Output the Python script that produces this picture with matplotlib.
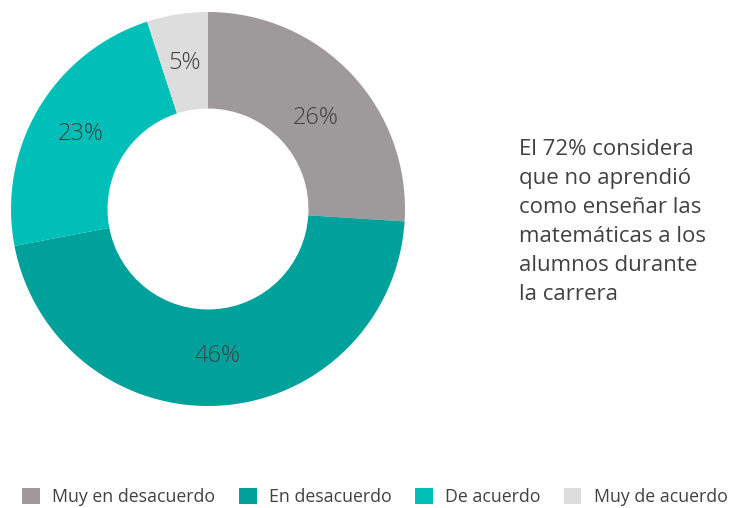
import matplotlib
matplotlib.use("Agg")
import matplotlib.pyplot as plt

categories = ["Muy en desacuerdo", "En desacuerdo", "De acuerdo", "Muy de acuerdo"]
values = [26, 46, 23, 5]
colors = ["#9E999A", "#00A19A", "#00BFB8", "#DDDDDD"]
note = "El 72% considera\nque no aprendió\ncomo enseñar las\nmatemáticas a los\nalumnos durante\nla carrera"

plt.rcParams['font.family'] = ['Open Sans', 'DejaVu Sans']
text_color = "#414141"

fig = plt.figure(figsize=(7.30, 5.08), dpi=100)
ax = fig.add_axes([11/730, (299-197)/508, 394/730, 394/508])
wedges, texts, autotexts = ax.pie(
    values, colors=colors, startangle=90, counterclock=False,
    wedgeprops=dict(width=0.49, linewidth=0),
    autopct=lambda p: f"{p:.0f}%", pctdistance=0.75,
    textprops=dict(color=text_color, fontsize=17, fontweight='light'))
ax.set_aspect('equal')
ax.set_xlim(-1, 1)
ax.set_ylim(-1, 1)
autotexts[0].set_position((autotexts[0].get_position()[0], autotexts[0].get_position()[1] - 0.05))

fig.text(519/730, 1 - 139/508, note, ha='left', va='top', fontsize=16,
         color=text_color, linespacing=1.5)

leg = fig.legend(wedges, categories, loc='center', bbox_to_anchor=(375/730, 1 - 497/508),
                 ncol=4, frameon=False, fontsize=12.8, handlelength=1.0, handleheight=1.0,
                 columnspacing=1.3, handletextpad=0.7, labelcolor=text_color)

fig.savefig("out.png", dpi=100)
